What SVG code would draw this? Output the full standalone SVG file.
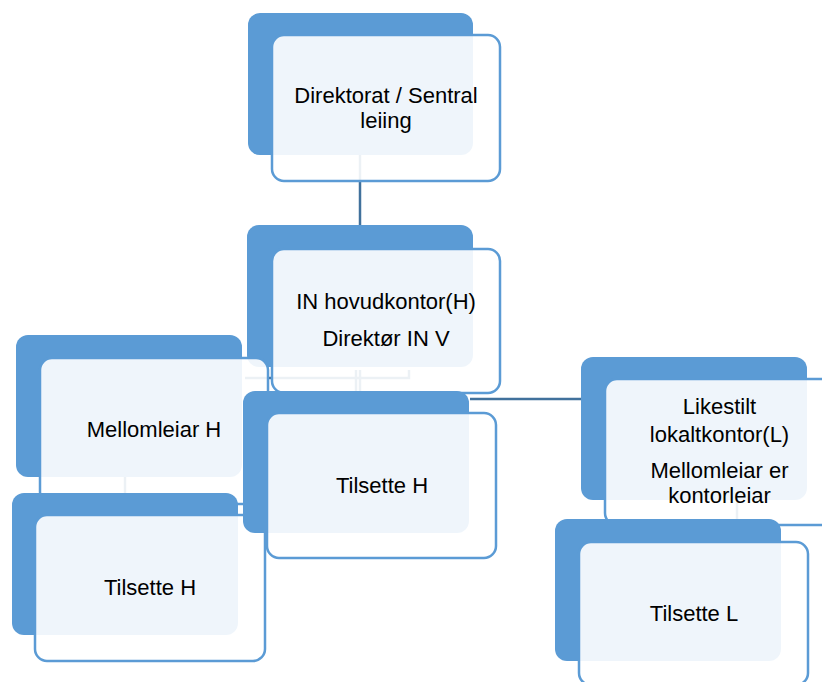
<svg xmlns="http://www.w3.org/2000/svg" width="822" height="682" viewBox="0 0 822 682">
<style>
.bk{fill:#5b9bd5;}
.fr{fill:#ffffff;fill-opacity:0.9;stroke:#5b9bd5;stroke-width:2.5;}
.cn{stroke:#41719c;stroke-width:2.5;fill:none;}
.t{font-family:"Liberation Sans",Arial,sans-serif;font-size:22px;fill:#000;text-anchor:middle;}
</style>
<rect width="822" height="682" fill="#ffffff"/>
<g id="connectors">
<line class="cn" x1="360" y1="155" x2="360" y2="225"/>
<line class="cn" x1="356" y1="370" x2="356" y2="391"/>
<line class="cn" x1="360" y1="370" x2="360" y2="391"/>
<polyline class="cn" points="245,378 409,378 409,370"/>
<line class="cn" x1="125" y1="476" x2="125" y2="493"/>
<line class="cn" x1="470" y1="399" x2="581" y2="399"/>
<line class="cn" x1="737" y1="500" x2="737" y2="519"/>
</g>
<g id="n-direktorat">
<rect class="bk" x="248" y="13" width="225" height="142" rx="12"/>
<rect class="fr" x="272" y="35" width="228" height="146" rx="12"/>
<text class="t" x="386" y="102.5">Direktorat / Sentral</text>
<text class="t" x="386" y="128">leiing</text>
</g>
<g id="n-in">
<rect class="bk" x="247" y="225" width="226" height="142" rx="12"/>
<rect class="fr" x="272" y="249" width="228" height="144" rx="12"/>
<text class="t" x="386" y="309">IN hovudkontor(H)</text>
<text class="t" x="386" y="345.5">Direktør IN V</text>
</g>
<g id="n-mellomleiar">
<rect class="bk" x="16" y="335" width="226" height="142" rx="12"/>
<rect class="fr" x="40" y="358" width="228" height="146" rx="12"/>
<text class="t" x="154" y="436.5">Mellomleiar H</text>
</g>
<g id="n-tilsette-h1">
<rect class="bk" x="12" y="493" width="226" height="142" rx="12"/>
<rect class="fr" x="35" y="515" width="230" height="146" rx="12"/>
<text class="t" x="150" y="595">Tilsette H</text>
</g>
<g id="n-tilsette-h2">
<rect class="bk" x="243" y="391" width="226" height="142" rx="12"/>
<rect class="fr" x="267" y="413" width="229" height="145" rx="12"/>
<text class="t" x="382" y="493">Tilsette H</text>
</g>
<g id="n-likestilt">
<rect class="bk" x="581" y="357" width="226" height="143" rx="12"/>
<rect class="fr" x="605" y="379" width="228" height="146" rx="12"/>
<text class="t" x="719.5" y="414">Likestilt</text>
<text class="t" x="719.5" y="441.5">lokaltkontor(L)</text>
<text class="t" x="719.5" y="478">Mellomleiar er</text>
<text class="t" x="719.5" y="503">kontorleiar</text>
</g>
<g id="n-tilsette-l">
<rect class="bk" x="555" y="519" width="226" height="142" rx="12"/>
<rect class="fr" x="579" y="542" width="229" height="143" rx="12"/>
<text class="t" x="694" y="620.5">Tilsette L</text>
</g>
</svg>
